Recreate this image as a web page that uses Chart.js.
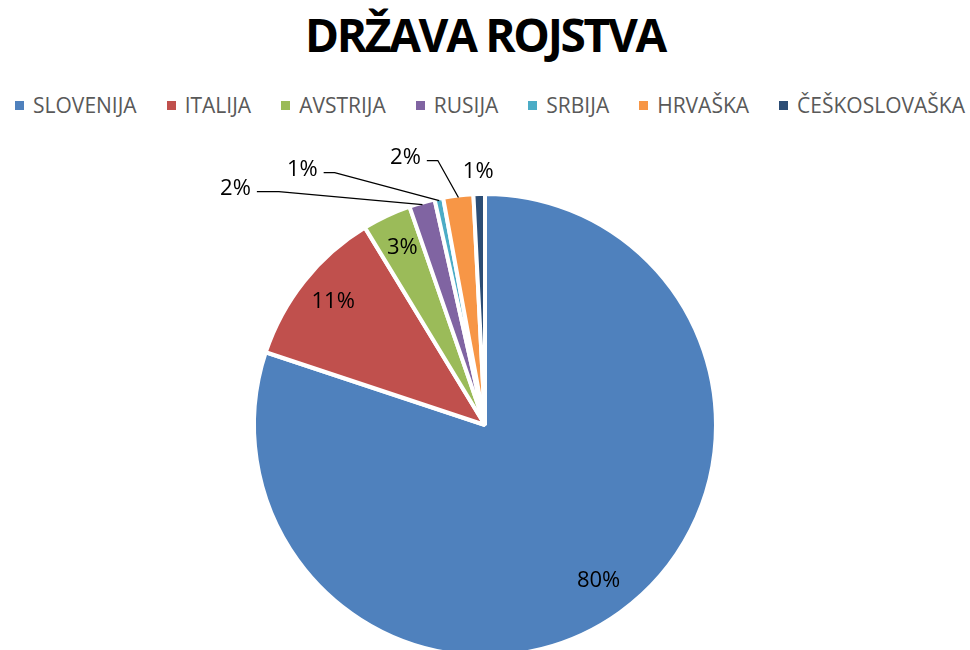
<!DOCTYPE html>
<html lang="sl">
<head>
  <meta charset="UTF-8">
  <title>Država rojstva</title>
  <script src="https://cdn.jsdelivr.net/npm/chart.js"></script>
  <style>
    body {
      margin: 0;
      width: 970px;
      height: 650px;
      overflow: hidden;
      background: #fff;
      position: relative;
      font-family: "Open Sans", sans-serif;
    }
    h1 {
      position: absolute;
      top: -2px;
      left: 0;
      width: 970px;
      margin: 0;
      text-align: center;
      font-size: 46px;
      font-weight: 700;
      letter-spacing: -2.3px;
      line-height: 72px;
      color: #000;
    }
    #legend {
      position: absolute;
      top: 91px;
      left: 5px;
      width: 970px;
      display: flex;
      justify-content: center;
      gap: 30px;
      font-size: 21px;
      line-height: 28px;
      color: #595959;
    }
    .item { display: flex; align-items: center; white-space: nowrap; }
    .box { width: 9px; height: 9px; margin-right: 9px; }
    #chartBox {
      position: absolute;
      top: 130px;
      left: 0;
      width: 970px;
      height: 590px;
    }
  </style>
</head>
<body>
  <h1>DRŽAVA ROJSTVA</h1>
  <div id="legend"></div>
  <div id="chartBox">
    <canvas id="pie"></canvas>
  </div>

  <script>
    // podatki
    const categories = ['SLOVENIJA', 'ITALIJA', 'AVSTRIJA', 'RUSIJA', 'SRBIJA', 'HRVAŠKA', 'ČEŠKOSLOVAŠKA'];
    const shares = [80.1, 11.2, 3.4, 1.8, 0.6, 2.1, 0.8];
    const colors = ['#4F81BD', '#C0504D', '#9BBB59', '#8064A2', '#4BACC6', '#F79646', '#2C4D75'];

    // kam postaviti oznake: null = znotraj, sicer odmik od roba izseka
    const callouts = [null, null, null,
      { dx: -187, dy: -16, arm: 22 },
      { dx: -137, dy: -31, arm: 11 },
      { dx: -53, dy: -40, arm: 11 },
      { dx: -1, dy: -24, arm: 0 }];

    const pctLabels = {
      id: 'pctLabels',
      afterDatasetsDraw(chart) {
        const ctx = chart.ctx;
        const meta = chart.getDatasetMeta(0);
        const data = chart.data.datasets[0].data;
        const total = data.reduce((a, b) => a + b, 0);
        ctx.save();
        ctx.font = '22px "Open Sans"';
        ctx.fillStyle = '#000';
        ctx.textAlign = 'center';
        ctx.textBaseline = 'middle';
        meta.data.forEach((arc, i) => {
          const p = arc.getProps(['x', 'y', 'startAngle', 'endAngle', 'outerRadius'], true);
          const mid = (p.startAngle + p.endAngle) / 2;
          const text = Math.round(data[i] / total * 100) + '%';
          const c = callouts[i];
          if (!c) {
            const r = p.outerRadius * 0.84;
            ctx.fillText(text, p.x + Math.cos(mid) * r, p.y + Math.sin(mid) * r - 2);
            return;
          }
          const ex = p.x + Math.cos(mid) * (p.outerRadius - 2);
          const ey = p.y + Math.sin(mid) * (p.outerRadius - 2);
          const lx = ex + c.dx, ly = ey + c.dy;
          ctx.fillText(text, lx, ly);
          if (c.arm) {
            const w = ctx.measureText(text).width;
            const sx = lx + w / 2 + 6, sy = ly + 3;
            ctx.beginPath();
            ctx.moveTo(sx, sy);
            ctx.lineTo(sx + c.arm, sy);
            ctx.lineTo(ex, ey);
            ctx.strokeStyle = '#000';
            ctx.lineWidth = 1.3;
            ctx.stroke();
          }
        });
        ctx.restore();
      }
    };

    const chart = new Chart(document.getElementById('pie'), {
      type: 'pie',
      data: {
        labels: categories,
        datasets: [{
          data: shares,
          backgroundColor: colors,
          borderColor: '#fff',
          borderWidth: 4,
          radius: 231
        }]
      },
      options: {
        responsive: true,
        maintainAspectRatio: false,
        animation: false,
        layout: { padding: 0 },
        plugins: {
          legend: { display: false },
          title: { display: false },
          tooltip: { enabled: false }
        }
      },
      plugins: [pctLabels]
    });

    // legenda v HTML
    const legendEl = document.getElementById('legend');
    chart.options.plugins.legend.labels.generateLabels(chart).forEach(item => {
      const el = document.createElement('div');
      el.className = 'item';
      const box = document.createElement('span');
      box.className = 'box';
      box.style.background = item.fillStyle;
      el.appendChild(box);
      el.appendChild(document.createTextNode(item.text));
      legendEl.appendChild(el);
    });
  </script>
</body>
</html>
